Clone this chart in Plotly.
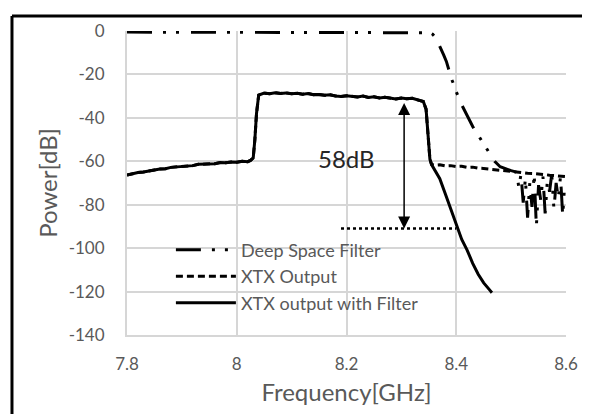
import plotly.graph_objects as go

# ---------------- data ----------------
xtx_freq = [7.80, 7.81, 7.82, 7.83, 7.84, 7.85, 7.86, 7.87, 7.88, 7.89, 7.90, 7.91, 7.92, 7.93, 7.94,
            7.95, 7.96, 7.97, 7.98, 7.99, 8.00, 8.01, 8.02, 8.025, 8.03, 8.033, 8.036, 8.04, 8.05,
            8.06, 8.07, 8.08, 8.09, 8.10, 8.11, 8.12, 8.13, 8.14, 8.15, 8.16, 8.17, 8.18, 8.19,
            8.20, 8.21, 8.22, 8.23, 8.24, 8.25, 8.26, 8.27, 8.28, 8.29, 8.30, 8.31, 8.32, 8.33,
            8.34, 8.345, 8.348, 8.352, 8.355, 8.36, 8.37, 8.38, 8.39, 8.40, 8.41, 8.42, 8.43,
            8.44, 8.45, 8.46, 8.47, 8.48, 8.49, 8.50, 8.51, 8.52, 8.53, 8.54, 8.55, 8.56, 8.57,
            8.58, 8.59, 8.60]
xtx_db = [-66.3, -65.6, -65.2, -64.9, -64.3, -64.0, -63.6, -63.4, -62.8, -62.6, -62.3, -61.9, -62.0,
          -61.4, -61.3, -61.0, -61.1, -60.6, -60.7, -60.3, -60.4, -60.0, -60.2, -59.6, -58.5, -50.0,
          -38.0, -29.5, -28.6, -28.9, -28.4, -28.8, -28.5, -28.9, -28.7, -29.1, -28.8, -29.3, -29.2,
          -29.6, -29.4, -29.9, -30.2, -29.8, -30.1, -30.4, -30.0, -30.6, -30.3, -30.8, -30.5, -31.0,
          -31.3, -30.9, -31.2, -31.0, -31.6, -32.5, -36.0, -48.0, -59.0, -61.5, -61.8, -61.6, -62.1,
          -62.0, -62.4, -62.3, -62.8, -62.7, -63.2, -63.3, -63.6, -63.9, -64.0, -64.4, -64.6, -64.8,
          -65.1, -65.5, -65.6, -66.0, -66.1, -66.4, -66.6, -66.8, -67.1]

filt_out_freq = [8.355, 8.36, 8.37, 8.38, 8.39, 8.40, 8.41, 8.42, 8.43, 8.44, 8.45, 8.46, 8.465]
filt_out_db = [-61.5, -63.5, -68.0, -75.0, -82.0, -90.0, -96.0, -101.0, -107.0, -112.0, -116.0,
               -119.0, -120.5]

dsf_freq = [7.80, 8.345, 8.352, 8.357, 8.362, 8.367, 8.372, 8.377, 8.382, 8.387, 8.392, 8.397, 8.40,
            8.41, 8.42, 8.43, 8.44, 8.45, 8.46, 8.47, 8.48, 8.49, 8.50, 8.51,
            8.514, 8.518, 8.522, 8.526, 8.530, 8.534, 8.538, 8.542, 8.546, 8.550, 8.554, 8.558,
            8.562, 8.566, 8.570, 8.574, 8.578, 8.582, 8.586, 8.590, 8.594, 8.598]
dsf_db = [-0.5, -0.5, -0.8, -1.5, -3.0, -5.5, -8.0, -11.0, -14.0, -18.5, -22.5, -25.5, -28.0,
          -34.0, -39.0, -44.0, -48.0, -52.0, -55.5, -60.0, -62.5, -63.5, -64.3, -65.0,
          -72.0, -66.0, -79.0, -68.0, -86.0, -70.0, -81.0, -66.0, -90.0, -71.0, -78.0, -67.0,
          -84.0, -69.0, -74.0, -66.0, -82.0, -70.0, -77.0, -67.0, -85.0, -69.0]

ref_line_freq = [8.19, 8.40]
ref_line_db = [-91.0, -91.0]

arrow_freq = 8.305
arrow_top_db = -32.5
arrow_bottom_db = -91.0
label_text = "58dB"
label_freq = 8.2
label_db = -58.5

x_ticks = [7.8, 8.0, 8.2, 8.4, 8.6]
x_tick_text = ["7.8", "8", "8.2", "8.4", "8.6"]
y_ticks = [0, -20, -40, -60, -80, -100, -120, -140]
y_tick_text = ["0", "-20", "-40", "-60", "-80", "-100", "-120", "-140"]

FONT = "Lato"
GREY = "#595959"

fig = go.Figure()

fig.add_trace(go.Scatter(
    x=dsf_freq, y=dsf_db, mode="lines", name="Deep Space Filter",
    line=dict(color="black", width=3, dash="25px,11px,3px,10px,3px,12px"),
    legendgroup="a"))
fig.add_trace(go.Scatter(
    x=xtx_freq, y=xtx_db, mode="lines", name="XTX Output",
    line=dict(color="black", width=3, dash="7px,4px"),
    legendgroup="b"))
fig.add_trace(go.Scatter(
    x=xtx_freq[:xtx_freq.index(8.355)] + filt_out_freq,
    y=xtx_db[:xtx_freq.index(8.355)] + filt_out_db,
    mode="lines", name="XTX output with Filter",
    line=dict(color="black", width=3),
    legendgroup="c"))
fig.add_trace(go.Scatter(
    x=ref_line_freq, y=ref_line_db, mode="lines", showlegend=False,
    line=dict(color="black", width=2.5, dash="dot")))

fig.add_annotation(
    x=arrow_freq, y=arrow_bottom_db, ax=arrow_freq, ay=arrow_top_db,
    xref="x", yref="y", axref="x", ayref="y", text="", showarrow=True,
    arrowhead=2, startarrowhead=2, arrowside="end+start",
    arrowwidth=1.5, arrowsize=1.6, startarrowsize=1.6, arrowcolor="black")
fig.add_annotation(
    x=label_freq, y=label_db, xref="x", yref="y", text=label_text, showarrow=False,
    font=dict(family=FONT, size=24, color="#262626"))

# outer frame (top and left edges)
fig.add_shape(type="line", xref="paper", yref="paper", x0=-0.262, x1=1.06, y0=1.0495, y1=1.0495,
              line=dict(color="black", width=3))
fig.add_shape(type="line", xref="paper", yref="paper", x0=-0.262, x1=-0.262, y0=1.0495, y1=-0.26,
              line=dict(color="black", width=3))

axis_common = dict(showgrid=True, gridcolor="#d6d6d6", gridwidth=2, zeroline=False,
                   showline=True, linecolor="#d6d6d6", linewidth=2,
                   tickfont=dict(family=FONT, size=17, color=GREY), ticks="")

fig.update_xaxes(range=[7.8, 8.6], tickvals=x_ticks, ticktext=x_tick_text,
                 title=dict(text="Frequency[GHz]", font=dict(family=FONT, size=24, color=GREY), standoff=11),
                 ticklabelstandoff=13, **axis_common)
fig.update_yaxes(range=[-140, 0], tickvals=y_ticks, ticktext=y_tick_text,
                 title=dict(text="Power[dB]", font=dict(family=FONT, size=24, color=GREY), standoff=4),
                 ticklabelstandoff=17, **axis_common)

fig.update_layout(
    width=582, height=406,
    margin=dict(l=119, r=24, t=16, b=77),
    paper_bgcolor="white", plot_bgcolor="white",
    font=dict(family=FONT, color=GREY),
    legend=dict(x=0.100, y=0.34, xanchor="left", yanchor="top", bgcolor="rgba(0,0,0,0)",
                font=dict(family=FONT, size=18, color=GREY), itemwidth=60,
                traceorder="grouped", tracegroupgap=0),
)

fig.write_html("out.html")
